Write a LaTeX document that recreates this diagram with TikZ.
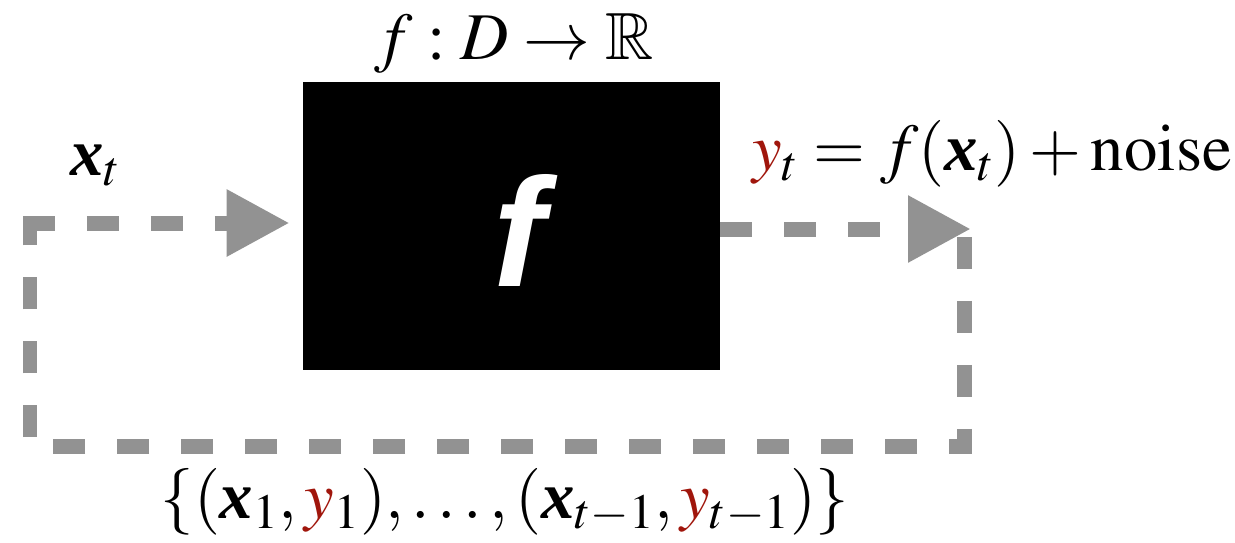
\documentclass[tikz,border=0pt]{standalone}
\usepackage{amsmath,amssymb}
\usepackage{mathptmx}
\usepackage{fontspec}
\setmainfont{Liberation Serif}
\newfontfamily\boxfont{Liberation Sans}
\usetikzlibrary{arrows.meta}
\definecolor{loopgray}{RGB}{146,146,146}
\definecolor{outred}{RGB}{160,22,12}
\newcommand{\vx}{\mbox{\normalfont\bfseries\itshape x}}
\newcommand{\ry}{\textcolor{outred}{y}}

\begin{document}
\begin{tikzpicture}[x=0.02cm,y=-0.02cm,
  flow/.style={draw=loopgray,line width=0.3cm,dash pattern=on 0.64cm off 0.64cm},
  tip/.style={-{Triangle[length=1.26cm,width=1.26cm]},loopgray},
  lbl/.style={font=\fontsize{38}{43}\selectfont,inner sep=0pt}]
\useasboundingbox (0,0) rectangle (1235,542);

\node[fill=black,minimum width=8.34cm,minimum height=5.76cm,inner sep=0pt] (box) at (511.5,226) {};
\node[text=white,font=\boxfont\bfseries\itshape\fontsize{88}{94}\selectfont,inner sep=0pt] (fsym) at (519,230) {f};

\coordinate (in) at (23,223);
\coordinate (out) at (971,229);
\coordinate (R) at (964,237);
\coordinate (RB) at (964,446);
\coordinate (LB) at (30,446);
\coordinate (L) at (30,228);

\draw[flow,tip,shorten >=0.26cm] (in) -- (in -| box.west);
\draw[flow,tip] (box.east |- out) -- (out);
\draw[flow,miter limit=4] (R) -- (RB) -- (LB) -- (L);

\node[lbl,anchor=base] (sig) at (514,59) {$f : D \rightarrow \mathbb{R}$};
\node[lbl,anchor=base west] (xin) at (70,175) {$\vx_t$};
\node[lbl,anchor=base west] (yout) at (752,170) {$\ry_t = f(\vx_t) + \mathrm{noise}$};
\node[lbl,anchor=base] (hist) at (505,518) {$\{(\vx_1,\ry_1),\ldots,(\vx_{t-1},\ry_{t-1})\}$};
\end{tikzpicture}
\end{document}
